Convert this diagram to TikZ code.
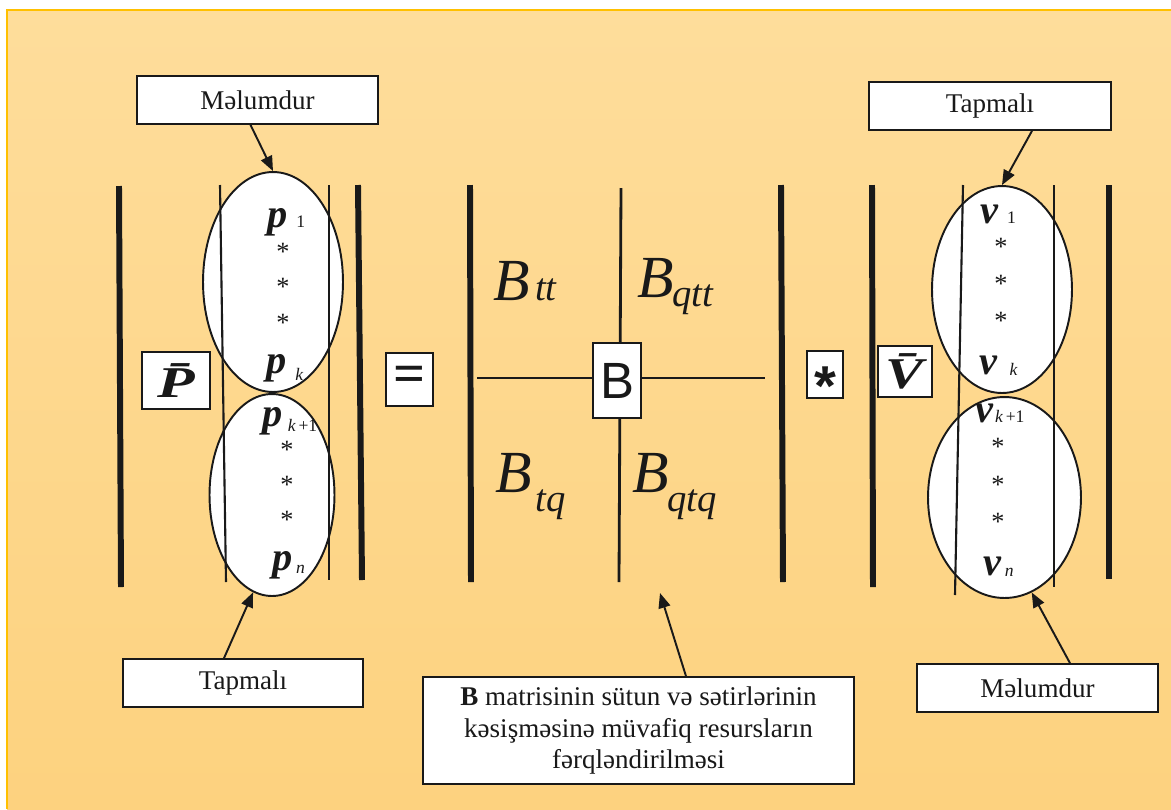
\documentclass[tikz,border=0pt]{standalone}
\usepackage{fontspec}
\setmainfont{Liberation Serif}
\newfontfamily\arialfont{Liberation Sans}
\usetikzlibrary{arrows.meta,shapes.geometric}
\definecolor{bgtop}{RGB}{254,221,155}
\definecolor{bgbot}{RGB}{253,210,127}
\definecolor{bgedge}{RGB}{255,192,0}
\definecolor{ink}{RGB}{25,25,25}
\newcommand{\elsub}[3]{\hspace{#1}\raisebox{#2}{\fontsize{10}{10}\selectfont\mdseries\upshape #3}}
\newcommand{\blksub}[3]{\hspace{#1}\raisebox{#2}{\fontsize{22}{22}\selectfont #3}}
\newcommand{\pstar}{\raisebox{-0.5em}[0pt][0pt]{*}}

\begin{document}
\begin{tikzpicture}[x=0.02cm, y=-0.02cm,
  box/.style={draw=ink, fill=white, line width=1pt, inner sep=0pt, text=ink,
    font=\fontsize{15.4}{18}\selectfont},
  oval/.style={ellipse, draw=ink, fill=white, line width=1.1pt, inner sep=0pt},
  heavy/.style={line width=3.4pt, draw=ink},
  thin/.style={line width=1.2pt, draw=ink},
  mid/.style={line width=1.6pt, draw=ink},
  pointer/.style={-{Triangle[length=8.5pt,width=6.8pt]}, line width=1.1pt, draw=ink},
  elem/.style={anchor=base west, inner sep=0pt, text=ink,
    font=\fontsize{23}{23}\selectfont\bfseries\itshape},
  star/.style={inner sep=0pt, text=ink, font=\fontsize{15}{15}\selectfont},
  blk/.style={anchor=base west, inner sep=0pt, text=ink,
    font=\fontsize{34}{34}\selectfont\itshape}]

  \useasboundingbox (0,0) rectangle (1171,809);
  \shade[top color=bgtop, bottom color=bgbot] (7,10) rectangle (1171,809);
  \draw[bgedge, line width=0.6pt] (7,809) -- (7,10) -- (1171,10);

  % vector P
  \node[oval, minimum width=2.8cm, minimum height=4.4cm] (pup) at (273,282) {};
  \node[oval, minimum width=2.5cm, minimum height=4.04cm] (pdown) at (272,495) {};
  \draw[heavy] (119,186) -- (121,587);
  \draw[heavy] (358,185) -- (362,580);
  \draw[thin] (220,185) -- (226,582);
  \draw[thin] (329,185) -- (329,580);

  \node[elem] (p1) at (267,227) {p\elsub{5pt}{0pt}{1}};
  \node[star] (ps1) at (283,247) {\pstar};
  \node[star] (ps2) at (283,282) {\pstar};
  \node[star] (ps3) at (283,318) {\pstar};
  \node[elem] (pk) at (266,373) {p\elsub{5pt}{-4pt}{\itshape k}};
  \node[elem] (pk1) at (262,426) {p\elsub{3pt}{-3pt}{\itshape k\,\upshape+1}};
  \node[star] (ps4) at (287,445) {\pstar};
  \node[star] (ps5) at (287,480) {\pstar};
  \node[star] (ps6) at (287,515) {\pstar};
  \node[elem] (pn) at (272,570) {p\elsub{2pt}{-2pt}{\itshape n}};

  \node[box, minimum width=1.36cm, minimum height=1.14cm,
    font=\fontsize{25}{25}\selectfont\bfseries\itshape] (pvec) at (176,380.5)
    {\scalebox{1.4}[1]{\=P}};
  \node[box, minimum width=0.94cm, minimum height=1.06cm,
    font=\fontsize{32}{32}\selectfont\bfseries] (eq) at (409.5,379.5) {=};

  % matrix B
  \draw[heavy] (470,185) -- (471,582);
  \draw[heavy] (781,185) -- (783,582);
  \coordinate (btop) at (621,188);
  \coordinate (bbot) at (619,582);
  \coordinate (bleft) at (477,378);
  \coordinate (bright) at (765,378);
  \draw[mid] (btop) -- (bbot);
  \draw[mid] (bleft) -- (bright);
  \node[box, minimum width=0.96cm, minimum height=1.5cm,
    font=\arialfont\fontsize{29}{29}\selectfont] (bb) at (617,380.5) {B};

  \node[blk] (btt) at (493,300) {B\blksub{3pt}{0pt}{tt}};
  \node[blk] (bqtt) at (637,297) {B\blksub{-1pt}{-5.5pt}{qtt}};
  \node[blk] (btq) at (495,492) {B\blksub{2pt}{-11pt}{tq}};
  \node[blk] (bqtq) at (632,492) {B\blksub{-1pt}{-11pt}{qtq}};

  \node[box, minimum width=0.72cm, minimum height=0.94cm,
    font=\arialfont\fontsize{32}{32}\selectfont\bfseries] (times) at (825,374.5)
    {\raisebox{-17.7pt}[0pt][0pt]{*}};

  % vector V
  \node[oval, minimum width=2.8cm, minimum height=4.14cm] (vup) at (1002,289.5) {};
  \node[oval, minimum width=3.06cm, minimum height=4.02cm] (vdown) at (1004.5,497.5) {};
  \draw[heavy] (872,185) -- (873,587);
  \draw[heavy] (1109,185) -- (1109,579);
  \draw[thin] (963,185) -- (955,595);
  \draw[thin] (1054,185) -- (1054,587);

  \node[elem] (v1) at (980,223) {v\elsub{5pt}{0pt}{1}};
  \node[star] (vs1) at (1001,242) {\pstar};
  \node[star] (vs2) at (1001,279) {\pstar};
  \node[star] (vs3) at (1001,316) {\pstar};
  \node[elem] (vk) at (979,374) {v\elsub{7pt}{-1pt}{\itshape k}};
  \node[elem] (vk1) at (975,422) {v\elsub{1pt}{0pt}{\itshape k\,\upshape+1}};
  \node[star] (vs4) at (998,442) {\pstar};
  \node[star] (vs5) at (998,480) {\pstar};
  \node[star] (vs6) at (998,517) {\pstar};
  \node[elem] (vn) at (983,575) {v\elsub{2pt}{-1pt}{\itshape n}};

  \node[box, minimum width=1.08cm, minimum height=1.02cm,
    font=\fontsize{25}{25}\selectfont\bfseries\itshape] (vvec) at (905,371.5)
    {\scalebox{1.3}[1]{\=V}};

  % notes
  \node[box, minimum width=4.82cm, minimum height=0.96cm] (known1) at (257.5,100) {Məlumdur};
  \node[box, minimum width=4.8cm, minimum height=0.96cm] (find1) at (243,683) {Tapmalı};
  \node[box, minimum width=4.84cm, minimum height=0.96cm] (find2) at (990,106) {Tapmalı};
  \node[box, minimum width=4.82cm, minimum height=0.96cm] (known2) at (1037.5,688) {Məlumdur};
  \node[box, minimum width=8.62cm, minimum height=2.14cm, align=center] (note) at (638.5,730.5)
    {\textbf{B} matrisinin sütun və sətirlərinin\\kəsişməsinə müvafiq resursların\\fərqləndirilməsi};
  \coordinate (bpoint) at (660,593);

  \draw[pointer] ([xshift=-0.14cm]known1.south) -- (pup.north);
  \draw[pointer] ([xshift=-0.38cm]find1.north) -- (pdown.-101);
  \draw[pointer] ([xshift=0.84cm]find2.south) -- (vup.north);
  \draw[pointer] ([xshift=0.65cm]known2.north) -- (vdown.-74);
  \draw[pointer] ([xshift=0.95cm]note.north) -- (bpoint);

\end{tikzpicture}
\end{document}
